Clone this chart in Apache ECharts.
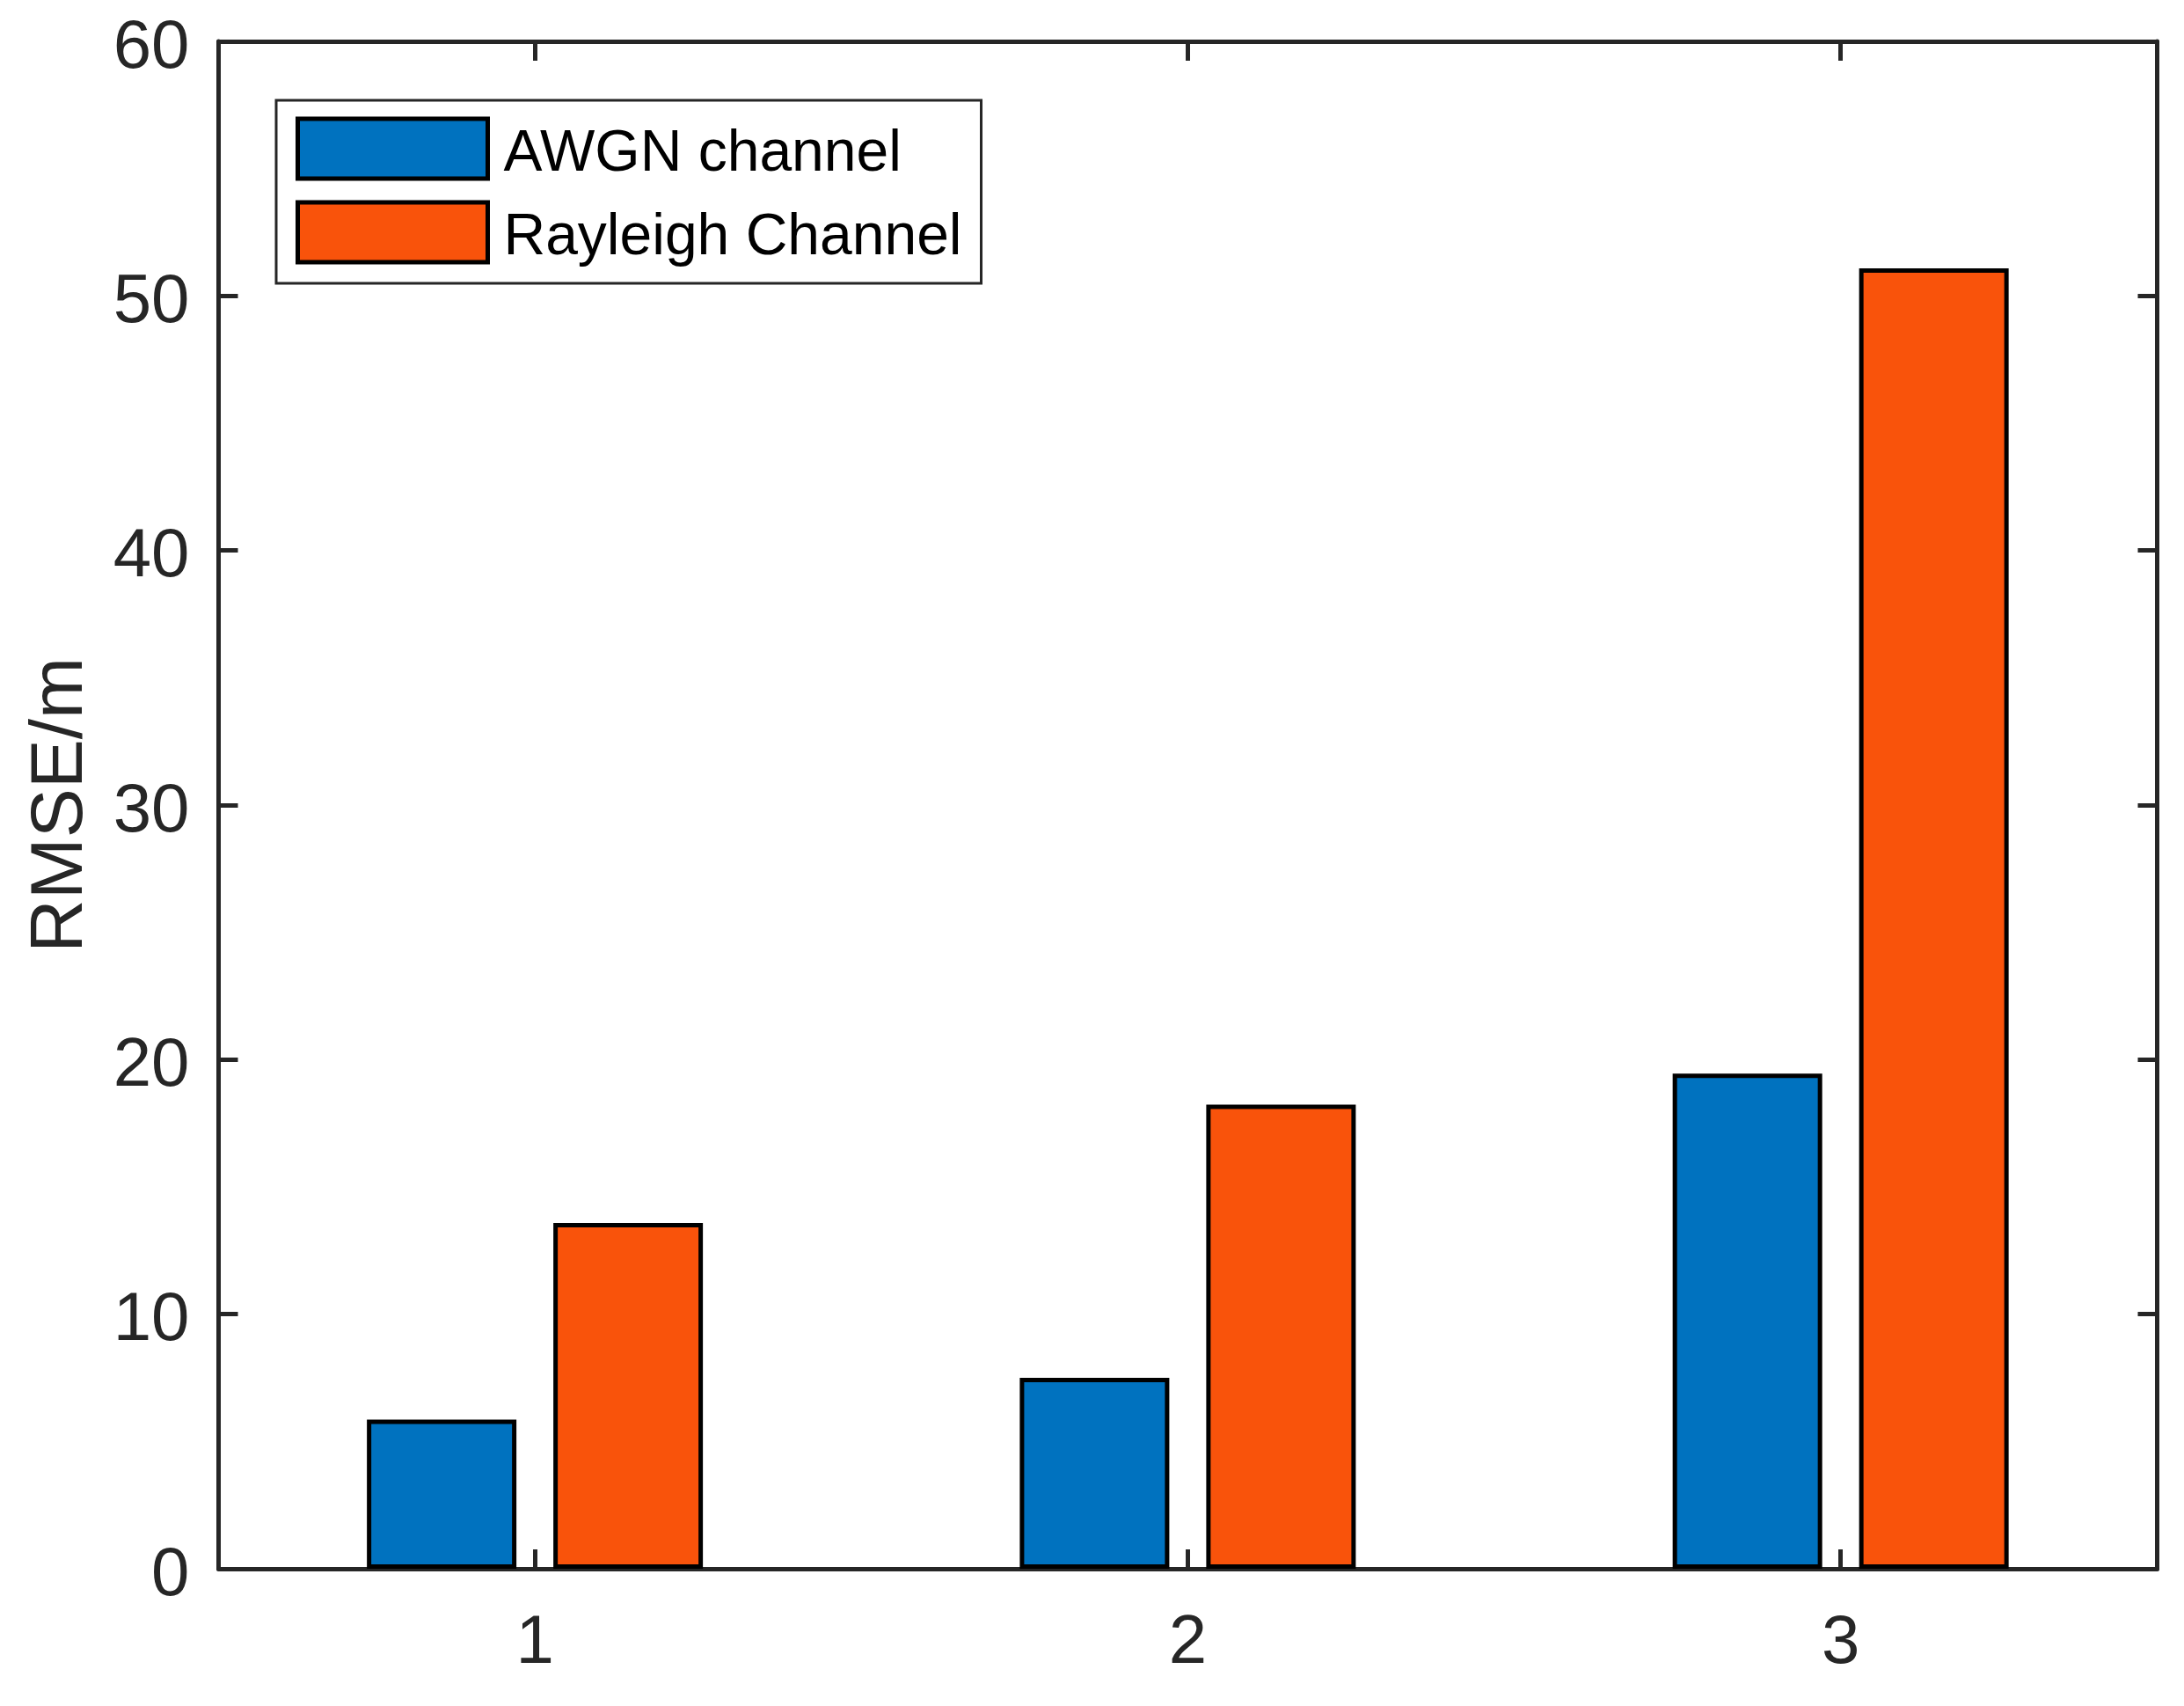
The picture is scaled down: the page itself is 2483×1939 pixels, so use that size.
<!DOCTYPE html>
<html>
<head>
<meta charset="utf-8">
<script src="https://cdn.jsdelivr.net/npm/echarts@6/dist/echarts.min.js"></script>
<style>
html,body{margin:0;padding:0;background:#fff;}
#chart{width:2483px;height:1939px;}
</style>
</head>
<body>
<div id="chart"></div>
<script>
const categories = [1, 2, 3];
const categoryLabels = ['1', '2', '3'];
const awgnValues = [5.86, 7.5, 19.45];
const rayleighValues = [13.58, 18.23, 51.08];
const seriesNames = ['AWGN channel', 'Rayleigh Channel'];
const yAxisName = 'RMSE/m';

const FONT = "'Liberation Sans', Arial, Helvetica, sans-serif";
const AX = '#262626';

const chart = echarts.init(document.getElementById('chart'));

function xAxisCfg(pos, showLabel) {
  return {
    type: 'value', position: pos, min: 0.5155, max: 3.4848,
    axisLine: { show: true, onZero: false, lineStyle: { color: AX, width: 5 } },
    axisTick: { show: true, inside: true, length: 22, lineStyle: { color: AX, width: 5 }, customValues: categories },
    axisLabel: { show: showLabel, customValues: categories, margin: 46, fontSize: 78, fontFamily: FONT, color: AX,
      formatter: v => categoryLabels[categories.indexOf(v)] },
    splitLine: { show: false }
  };
}
function yAxisCfg(pos, showLabel) {
  return {
    type: 'value', position: pos, min: 0, max: 60, interval: 10,
    name: showLabel ? yAxisName : '', nameLocation: 'middle', nameGap: 137,
    nameTextStyle: { fontSize: 84, fontFamily: FONT, color: AX },
    axisLine: { show: true, onZero: false, lineStyle: { color: AX, width: 5 } },
    axisTick: { show: true, inside: true, length: 22, lineStyle: { color: AX, width: 5 } },
    axisLabel: { show: showLabel, margin: 33, fontSize: 78, fontFamily: FONT, color: AX,
      formatter: v => '{v|' + v + '}',
      rich: { v: { fontSize: 78, fontFamily: FONT, color: AX, padding: [16, 0, 0, 0], lineHeight: 78 } } },
    splitLine: { show: false }
  };
}

chart.setOption({
  animation: false,
  backgroundColor: '#fff',
  grid: { left: 248.5, right: 30.5, top: 46.5, bottom: 156, containLabel: false },
  legend: {
    orient: 'vertical', left: 314, top: 114,
    padding: [15, 22, 18, 22],
    backgroundColor: '#fff', borderColor: AX, borderWidth: 3, borderRadius: 0,
    icon: 'rect', itemWidth: 216, itemHeight: 68, itemGap: 15,
    itemStyle: { borderColor: '#000', borderWidth: 5 },
    formatter: name => '{t|' + name + '}',
    textStyle: { fontSize: 66, fontFamily: FONT, color: '#000',
      rich: { t: { fontSize: 66, fontFamily: FONT, color: '#000', padding: [14, 0, 0, 13], lineHeight: 66 } } },
    data: seriesNames
  },
  xAxis: [xAxisCfg('bottom', true), xAxisCfg('top', false)],
  yAxis: [yAxisCfg('left', true), yAxisCfg('right', false)],
  series: [
    {
      name: seriesNames[0], type: 'bar', xAxisIndex: 0, yAxisIndex: 0,
      barWidth: 170, barGap: '24.7%',
      itemStyle: { color: '#0072BF', borderColor: '#000', borderWidth: 5 },
      data: categories.map((c, i) => [c, awgnValues[i]])
    },
    {
      name: seriesNames[1], type: 'bar', xAxisIndex: 0, yAxisIndex: 0,
      barWidth: 170, barGap: '24.7%',
      itemStyle: { color: '#F9530B', borderColor: '#000', borderWidth: 5 },
      data: categories.map((c, i) => [c, rayleighValues[i]])
    }
  ]
});
</script>
</body>
</html>
